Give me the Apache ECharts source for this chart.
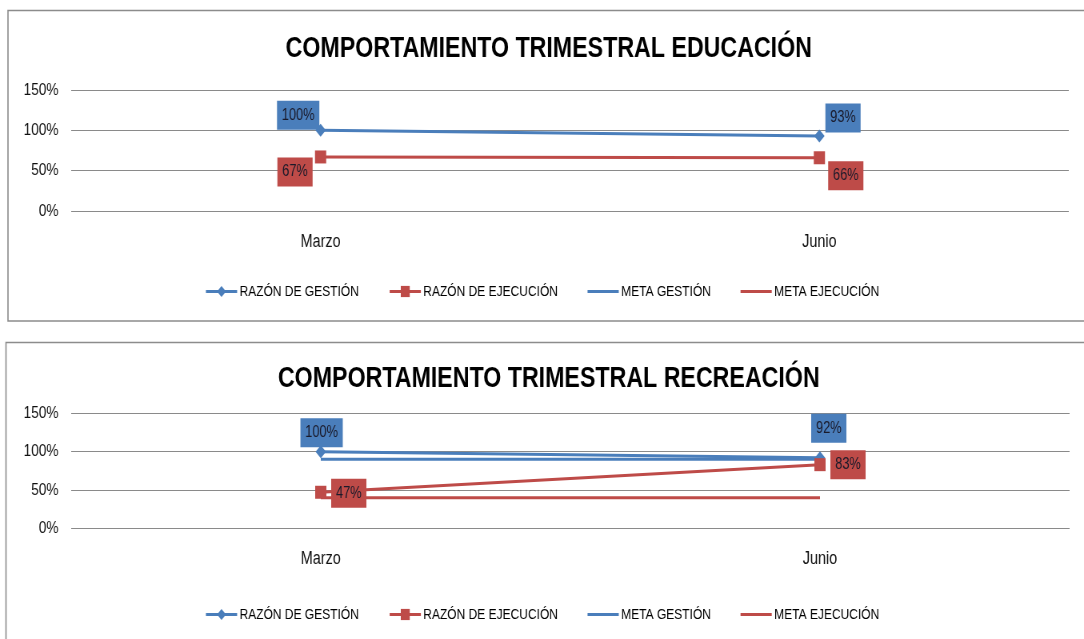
<!DOCTYPE html>
<html>
<head>
<meta charset="utf-8">
<script src="https://cdn.jsdelivr.net/npm/echarts@6/dist/echarts.min.js"></script>
<style>
  html, body { margin: 0; padding: 0; background: #fff; overflow: hidden; }
  /* The chart is laid out wider and condensed horizontally, giving the narrow lettering */
  #main { width: 1355px; height: 639px; transform: scaleX(0.8); transform-origin: 0 0; }
</style>
</head>
<body>
<div id="main"></div>
<script>
// Quarterly tracking: two panels (education, recreation)
const categories = ['Marzo', 'Junio'];
const seriesNames = ['RAZÓN DE GESTIÓN', 'RAZÓN DE EJECUCIÓN', 'META GESTIÓN', 'META EJECUCIÓN'];
const yTicks = [0, 50, 100, 150];

// Educación (values in %)
const eduRazonGestion = [100, 93];
const eduRazonEjecucion = [67, 66];
const eduMetaGestion = [null, null];
const eduMetaEjecucion = [null, null];

// Recreación (values in %)
const recRazonGestion = [100, 92];
const recRazonEjecucion = [47, 83];
const recMetaGestion = [90, 90];
const recMetaEjecucion = [40, 40];

const titles = ['COMPORTAMIENTO TRIMESTRAL EDUCACIÓN', 'COMPORTAMIENTO TRIMESTRAL RECREACIÓN'];

const BLUE = '#4A7EBB';
const RED = '#BE4B48';
const FONT = '"Liberation Sans", Arial, sans-serif';
// Plain bar used as legend icon for the target lines (no marker)
const LINE_ICON = 'path://M0,0H40V3H0Z';

// Panel layout (pixels, in the un-condensed layout space)
const panels = [
  { frameTop: 10, frameLeft: 10, frameBottom: 320.5, gridTop: 90, gridBottom: 211, gridLeft: 89, gridRight: 1336,
    titleTop: 29, legendTop: 279,
    gOffsets: [[-28, -15], [29.5, -18]], eOffsets: [[-32, 15], [33, 18]] },
  { frameTop: 342, frameLeft: 7.5, frameBottom: 700, gridTop: 413.3, gridBottom: 528.3, gridLeft: 89, gridRight: 1337,
    titleTop: 359, legendTop: 602,
    gOffsets: [[1, -19], [11, -29.5]], eOffsets: [[35, 1], [35, 0]] }
];

const panelData = [
  [eduRazonGestion, eduRazonEjecucion, eduMetaGestion, eduMetaEjecucion],
  [recRazonGestion, recRazonEjecucion, recMetaGestion, recMetaEjecucion]
];

function labelled(values, offsets, bg) {
  return values.map((v, i) => ({
    value: v,
    label: {
      show: v != null,
      position: 'inside',
      offset: offsets[i],
      formatter: p => p.value + '%',
      backgroundColor: bg,
      color: '#1a1a2a',
      fontFamily: FONT,
      fontSize: 16,
      lineHeight: 16,
      padding: [7, 6, 6, 6]
    }
  }));
}

const option = {
  animation: false,
  backgroundColor: '#fff',
  title: [], legend: [], grid: [], xAxis: [], yAxis: [], series: [],
  graphic: []
};

panels.forEach((p, k) => {
  option.graphic.push({
    type: 'rect', z: -1,
    shape: { x: p.frameLeft, y: p.frameTop + 0.5, width: 1500, height: p.frameBottom - p.frameTop },
    style: { fill: '#fff', stroke: '#8c8c8c', lineWidth: 1.6 }
  });
  option.title.push({
    text: titles[k], left: 681, textAlign: 'center', top: p.titleTop,
    textStyle: { fontFamily: FONT, fontWeight: 'bold', fontSize: 29, color: '#000' }
  });
  option.legend.push({
    top: p.legendTop, left: 'center', itemGap: 37, itemWidth: 39, itemHeight: 14,
    symbolKeepAspect: true,
    data: seriesNames.map((n, i) => (i < 2 ? { name: n } : { name: n, icon: LINE_ICON })),
    lineStyle: { width: 3 },
    textStyle: { fontFamily: FONT, fontSize: 15, color: '#000', padding: [0, 0, 0, -2] }
  });
  option.grid.push({
    left: p.gridLeft, width: p.gridRight - p.gridLeft,
    top: p.gridTop, height: p.gridBottom - p.gridTop
  });
  option.xAxis.push({
    type: 'category', gridIndex: k, data: categories, boundaryGap: true,
    axisLine: { show: false }, axisTick: { show: false },
    axisLabel: { margin: 22, fontFamily: FONT, fontSize: 18, color: '#111' }
  });
  option.yAxis.push({
    type: 'value', gridIndex: k, min: yTicks[0], max: yTicks[yTicks.length - 1], interval: 50,
    axisLine: { show: false }, axisTick: { show: false },
    axisLabel: { formatter: '{value}%', margin: 16, fontFamily: FONT, fontSize: 17, color: '#111' },
    splitLine: { lineStyle: { color: '#8a8a8a', width: 1.2 } }
  });
  const d = panelData[k];
  option.series.push(
    { name: seriesNames[0], type: 'line', xAxisIndex: k, yAxisIndex: k, z: 4,
      symbol: 'diamond', symbolSize: [13, 13], color: BLUE, lineStyle: { width: 3, color: BLUE },
      data: labelled(d[0], p.gOffsets, BLUE) },
    { name: seriesNames[1], type: 'line', xAxisIndex: k, yAxisIndex: k, z: 4,
      symbol: 'rect', symbolSize: [14, 13], color: RED, lineStyle: { width: 3, color: RED },
      data: labelled(d[1], p.eOffsets, RED) },
    { name: seriesNames[2], type: 'line', xAxisIndex: k, yAxisIndex: k, z: 3,
      symbol: 'none', color: BLUE, lineStyle: { width: 3, color: BLUE }, data: d[2] },
    { name: seriesNames[3], type: 'line', xAxisIndex: k, yAxisIndex: k, z: 3,
      symbol: 'none', color: RED, lineStyle: { width: 3, color: RED }, data: d[3] }
  );
});

const chart = echarts.init(document.getElementById('main'), null, { renderer: 'canvas' });
chart.setOption(option);
</script>
</body>
</html>
